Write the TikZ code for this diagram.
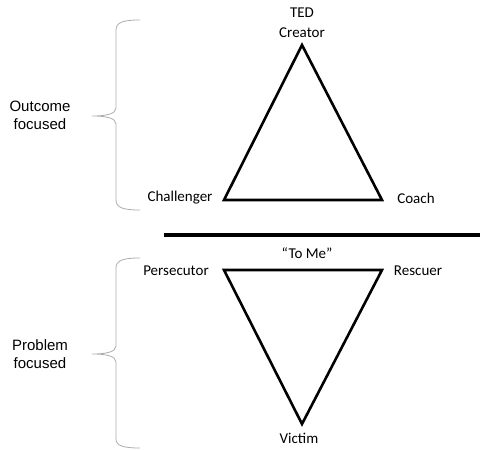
\documentclass[tikz,border=0pt]{standalone}
\usepackage{fontspec}
\setmainfont{Carlito}
\newfontfamily\sidefont{Liberation Sans}
\usepackage{tikz}
\usepackage{xcolor}

\begin{document}
\begin{tikzpicture}[x=1pt,y=-1pt,every node/.style={font=\fontsize{15}{18}\selectfont,inner sep=0pt},
  side/.style={font=\sidefont\fontsize{15}{18}\selectfont,align=center},
  tri/.style={line width=2.6pt},
  brace/.style={gray!65,line width=0.8pt}]
\useasboundingbox (0,0) rectangle (483,450);
% upper triangle
\coordinate (cre) at (302,45);
\coordinate (cha) at (224,200);
\coordinate (coa) at (382,200);
\draw[tri] (cre) -- (cha) -- (coa) -- cycle;
\node (ted) at (302,13) {TED};
\node (creator) at (302,33) {Creator};
\node (challenger) at (180,198) {Challenger};
\node (coach) at (416,198) {Coach};
% divider
\coordinate (divl) at (164,235);
\coordinate (divr) at (480,235);
\draw[line width=3.6pt] (divl) -- (divr);
% lower triangle
\coordinate (per) at (224,270);
\coordinate (res) at (382,270);
\coordinate (vic) at (302,424);
\draw[tri] (per) -- (res) -- (vic) -- cycle;
\node (tome) at (307,253) {``To Me''};
\node (persecutor) at (176,271) {Persecutor};
\node (rescuer) at (418,271) {Rescuer};
\node (victim) at (299,438) {Victim};
% braces
\draw[brace] (140,20) .. controls (124,20) and (116,22) .. (116,30) -- (116,108)
  .. controls (116,114) and (106,116) .. (92,116) .. controls (106,116) and (116,118) .. (116,124)
  -- (116,200) .. controls (116,208) and (124,210) .. (140,210);
\node[side] (outcome) at (40,115) {Outcome\\focused};
\draw[brace] (140,258) .. controls (124,258) and (116,260) .. (116,268) -- (116,346)
  .. controls (116,352) and (106,354) .. (92,354) .. controls (106,354) and (116,356) .. (116,362)
  -- (116,439) .. controls (116,446) and (124,448) .. (140,448);
\node[side] (problem) at (40,354) {Problem\\focused};
\end{tikzpicture}
\end{document}
